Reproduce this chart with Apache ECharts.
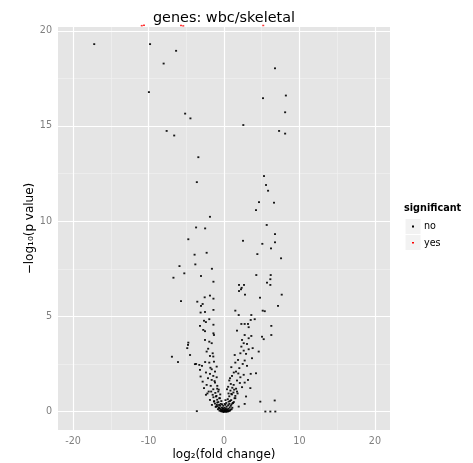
<!DOCTYPE html>
<html>
<head>
<meta charset="utf-8">
<script src="https://cdn.jsdelivr.net/npm/echarts@6/dist/echarts.min.js"></script>
<style>
  html, body { margin: 0; padding: 0; background: #ffffff; }
  #chart { width: 473px; height: 463px; }
</style>
</head>
<body>
<div id="chart"></div>
<script>
// Volcano plot: genes, wbc vs skeletal
const chartTitle = 'genes: wbc/skeletal';
const xAxisTitle = 'log\u2082(fold change)';
const yAxisTitle = '\u2212log\u2081\u2080(p value)';
const legendTitle = 'significant';
const groupNames = ['no', 'yes'];

// tick positions for both axes
const xTicks = [-20, -10, 0, 10, 20];
const xMinorTicks = [-15, -5, 5, 15];
const yTicks = [0, 5, 10, 15, 20];
const yMinorTicks = [2.5, 7.5, 12.5, 17.5];

// [log2 fold change, -log10 p value] for non-significant genes
const pointsNo = [
  [-17.2, 19.3], [-9.8, 19.3], [-6.35, 18.95], [-8.0, 18.28], [-9.95, 16.78], [-5.15, 15.65],
  [-4.45, 15.4], [-7.6, 14.74], [-6.6, 14.5], [-3.4, 13.36], [-3.6, 12.05],
  [2.56, 15.05], [6.76, 18.03], [8.2, 16.6], [5.17, 16.46], [8.1, 15.72], [7.3, 14.74],
  [8.1, 14.6], [5.3, 12.37], [5.57, 11.9], [5.84, 11.6],
  [4.64, 11.0], [6.63, 10.97], [4.24, 10.58], [5.66, 9.8], [6.76, 9.32], [2.52, 8.97],
  [6.76, 8.89], [5.08, 8.81], [6.23, 8.57], [4.42, 8.27], [7.56, 8.05],
  [4.28, 7.17], [6.19, 7.17], [6.14, 6.95], [5.7, 6.77], [6.14, 6.65], [1.99, 6.65],
  [2.65, 6.65], [2.34, 6.5], [2.25, 6.42], [1.99, 6.33], [2.78, 6.14], [7.65, 6.14], [4.77, 5.98],
  [-1.86, 10.23], [-3.7, 9.67], [-2.5, 9.62], [-4.73, 9.05], [-3.9, 8.24], [-2.3, 8.34],
  [-5.9, 7.64], [-3.8, 7.73], [-1.6, 7.5], [-5.26, 7.26], [-6.7, 7.03], [-3.05, 7.12],
  [-1.4, 6.82], [-2.56, 6.0], [-1.86, 6.09], [-1.4, 5.93],
  [-3.54, 5.77], [-2.83, 5.65], [-3.05, 5.55], [-2.52, 5.23], [-1.4, 5.34], [-3.1, 5.2],
  [-2.65, 4.77], [-1.95, 4.85], [-2.4, 4.7], [-3.18, 4.5], [-1.4, 4.56], [-2.75, 4.29],
  [-2.52, 4.22], [-1.4, 4.11], [-1.33, 4.02], [-2.52, 3.76], [-1.95, 3.67], [-4.73, 3.62],
  [-4.77, 3.5], [-1.63, 3.59], [-2.3, 3.15], [-1.5, 3.06], [-4.5, 2.97], [-1.86, 2.92],
  [-1.42, 2.89], [-1.33, 2.62], [-1.95, 2.57], [-3.7, 2.5], [-3.27, 2.45], [-2.92, 2.4],
  [-0.97, 2.36], [-1.63, 2.22], [-3.18, 2.19], [-1.19, 2.1], [-2.39, 2.05], [-1.86, 1.98],
  [-3.1, 1.84], [-1.42, 1.87], [-0.97, 1.8], [-2.12, 1.75], [-1.63, 1.66], [-2.83, 1.57],
  [-1.19, 1.52], [-2.3, 1.4], [-1.76, 1.35], [-0.89, 1.35], [-2.65, 1.23], [-1.42, 1.17],
  [-2.03, 1.05], [-0.76, 1.05], [-2.39, 0.88], [-1.5, 0.88], [-1.06, 0.79], [-0.62, 0.7],
  [-1.86, 0.61], [-1.33, 0.52], [-0.89, 0.47], [-0.44, 0.4], [-1.6, 0.35], [-1.06, 0.26],
  [-0.62, 0.18], [-0.17, 0.18], [-0.3, 0.05], [0.13, 0.05], [-3.6, 0.02], [-5.7, 5.8],
  [-4.87, 3.33], [-3.85, 2.49], [-6.9, 2.88], [-6.1, 2.6],
  [7.16, 5.55], [1.5, 5.3], [5.13, 5.3], [5.4, 5.27], [1.95, 5.07], [3.62, 5.07],
  [4.07, 4.85], [3.54, 4.81], [2.3, 4.6], [2.74, 4.6], [3.18, 4.6], [3.27, 4.43],
  [6.27, 4.5], [1.72, 4.25], [2.74, 4.02], [3.62, 3.97], [3.27, 3.85], [5.04, 3.93],
  [6.27, 4.02], [5.26, 3.8], [2.39, 3.76], [2.61, 3.59], [3.05, 3.55], [2.3, 3.41],
  [3.8, 3.33], [3.27, 3.27], [4.6, 3.15], [2.61, 3.2], [2.17, 3.06], [2.92, 3.03],
  [3.71, 2.8], [1.42, 2.97], [1.86, 2.71], [2.74, 2.68], [2.48, 2.5], [1.5, 2.57],
  [3.05, 2.4], [0.97, 2.33], [2.03, 2.28], [4.24, 2.01], [3.54, 1.98], [1.59, 2.1],
  [2.61, 1.93], [1.06, 1.87], [2.17, 1.8], [3.18, 1.66], [1.72, 1.63], [0.7, 1.63],
  [2.74, 1.52], [1.28, 1.4], [2.39, 1.28], [3.49, 1.23], [0.4, 1.17], [1.72, 1.05],
  [0.97, 0.93], [2.92, 0.79], [4.81, 0.52], [6.72, 0.58], [1.5, 0.7], [2.74, 0.4],
  [0.62, 0.52], [0.18, 0.35], [1.15, 0.44], [1.95, 0.26], [5.48, 0.0], [6.14, 0.0], [6.8, 0.0],
  // dense centre of the V
  [-0.1, 0.02], [0.05, 0.01], [0.2, 0.03], [-0.25, 0.06], [0.3, 0.08], [-0.4, 0.1],
  [0.45, 0.12], [-0.55, 0.15], [0.6, 0.14], [-0.7, 0.2], [0.75, 0.22], [-0.85, 0.28],
  [0.9, 0.3], [-0.95, 0.35], [1.0, 0.38], [-0.3, 0.2], [0.35, 0.25], [-0.5, 0.3],
  [0.55, 0.33], [-0.15, 0.12], [0.12, 0.1], [0.0, 0.05], [-0.05, 0.15], [0.08, 0.2],
  [-0.6, 0.05], [0.65, 0.04], [-0.8, 0.12], [0.85, 0.1], [1.1, 0.2], [-1.1, 0.25],
  [1.2, 0.45], [-1.2, 0.42], [1.3, 0.5], [-1.3, 0.55], [0.4, 0.02], [-0.35, 0.01],
  [0.15, 0.0], [-0.2, 0.0], [0.5, 0.0], [-0.45, 0.03], [0.25, 0.15], [-0.65, 0.35],
  [0.7, 0.4], [-0.75, 0.5], [0.8, 0.55], [-0.9, 0.62], [0.95, 0.6], [1.4, 0.7],
  [-1.4, 0.75], [1.5, 0.82], [-1.0, 0.82], [1.05, 0.9], [0.5, 0.65], [-0.55, 0.7],
  [1.25, 1.0], [-1.15, 0.98], [0.85, 1.1], [-0.9, 1.2], [0.7, 0.8], [0.3, 0.45],
  [-0.25, 0.38], [0.6, 0.95], [1.1, 1.25], [0.9, 1.45], [1.35, 1.15], [0.55, 1.3],
  [1.6, 1.2], [1.8, 0.95], [2.1, 1.5], [1.9, 2.0], [0.8, 1.75], [1.3, 2.05],
  [-1.7, 1.05], [-2.2, 0.95], [-1.25, 1.6], [-1.8, 2.3], [-2.5, 2.6], [-2.1, 3.3],
  [-0.7, 1.15], [-0.5, 0.9], [0.2, 0.6], [-0.1, 0.3], [0.1, 0.4], [-0.35, 0.55],
  [0.3, -0.02], [0.6, 0.02], [0.8, 0.05], [-0.05, -0.03], [0.45, 0.06], [1.0, 0.12]
];

// significant genes, sitting above the top of the panel
const pointsYes = [
  [-10.9, 20.27], [-10.6, 20.29], [-5.7, 20.28], [-5.4, 20.26], [5.2, 20.28]
];

const xRange = [-22, 22];
const yRange = [-0.97, 20.2];

const chart = echarts.init(document.getElementById('chart'), null, { renderer: 'canvas' });

// panel grid lines as mark lines, placed by the axis scales
const majorLine = { color: '#FFFFFF', width: 1.2, type: 'solid' };
const minorLine = { color: '#F2F2F2', width: 0.6, type: 'solid' };
const gridMarks = []
  .concat(xMinorTicks.map(v => ({ xAxis: v, lineStyle: minorLine })))
  .concat(yMinorTicks.map(v => ({ yAxis: v, lineStyle: minorLine })))
  .concat(xTicks.map(v => ({ xAxis: v, lineStyle: majorLine })))
  .concat(yTicks.map(v => ({ yAxis: v, lineStyle: majorLine })));

const fontFamily = '"DejaVu Sans", sans-serif';

const option = {
  animation: false,
  backgroundColor: '#ffffff',
  title: [
    {
      text: chartTitle,
      left: 224, top: 11,
      textAlign: 'center',
      padding: 0,
      textStyle: { fontFamily, fontSize: 14.4, fontWeight: 'normal', color: '#000000' }
    },
    {
      text: legendTitle,
      left: 404, top: 203.5,
      padding: 0,
      textStyle: { fontFamily, fontSize: 9.7, fontWeight: 'bold', color: '#000000' }
    }
  ],
  grid: {
    left: 58, top: 27, width: 332, height: 403,
    outerBoundsMode: 'none',
    containLabel: false,
    show: true, backgroundColor: '#E5E5E5', borderWidth: 0
  },
  xAxis: {
    type: 'value',
    min: xRange[0], max: xRange[1],
    axisLine: { show: false },
    splitLine: { show: false },
    axisTick: { show: true, length: 4, customValues: xTicks, lineStyle: { color: '#7F7F7F', width: 1 } },
    axisLabel: { customValues: xTicks, margin: 6, fontFamily, fontSize: 9.6, color: '#7F7F7F' },
    name: xAxisTitle,
    nameLocation: 'middle',
    nameMoveOverlap: false,
    nameGap: 19,
    nameTextStyle: { fontFamily, fontSize: 12, color: '#000000' }
  },
  yAxis: {
    type: 'value',
    min: yRange[0], max: yRange[1],
    axisLine: { show: false },
    splitLine: { show: false },
    axisTick: { show: true, length: 4, customValues: yTicks, lineStyle: { color: '#7F7F7F', width: 1 } },
    axisLabel: { customValues: yTicks, margin: 6, fontFamily, fontSize: 9.6, color: '#7F7F7F' },
    name: yAxisTitle,
    nameLocation: 'middle',
    nameMoveOverlap: false,
    nameGap: 22,
    nameRotate: 90,
    nameTextStyle: { fontFamily, fontSize: 12, color: '#000000' }
  },
  series: [
    {
      name: groupNames[1],
      type: 'scatter',
      z: 2,
      clip: false,
      symbol: 'rect',
      symbolSize: [2, 1.5],
      itemStyle: { color: '#FF0000' },
      data: pointsYes,
      markLine: {
        z: 1,
        silent: true,
        animation: false,
        symbol: 'none',
        label: { show: false },
        emphasis: { disabled: true },
        data: gridMarks
      }
    },
    {
      name: groupNames[0],
      type: 'scatter',
      z: 3,
      symbol: 'rect',
      symbolSize: [2, 1.8],
      itemStyle: { color: '#000000', opacity: 0.9 },
      data: pointsNo
    }
  ],
  graphic: [
    { type: 'rect', shape: { x: 405, y: 218.5, width: 16, height: 16 }, style: { fill: '#F2F2F2', stroke: '#FFFFFF', lineWidth: 1 } },
    { type: 'rect', shape: { x: 405, y: 234.5, width: 16, height: 16 }, style: { fill: '#F2F2F2', stroke: '#FFFFFF', lineWidth: 1 } },
    { type: 'rect', shape: { x: 412, y: 225.5, width: 2, height: 2 }, style: { fill: '#000000' } },
    { type: 'rect', shape: { x: 412, y: 242, width: 2, height: 1.5 }, style: { fill: '#FF0000' } },
    { type: 'text', x: 424, y: 226.5, style: { text: groupNames[0], font: '9.6px "DejaVu Sans", sans-serif', fill: '#000000', align: 'left', verticalAlign: 'middle' } },
    { type: 'text', x: 424, y: 243, style: { text: groupNames[1], font: '9.6px "DejaVu Sans", sans-serif', fill: '#000000', align: 'left', verticalAlign: 'middle' } }
  ]
};

chart.setOption(option);
</script>
</body>
</html>
